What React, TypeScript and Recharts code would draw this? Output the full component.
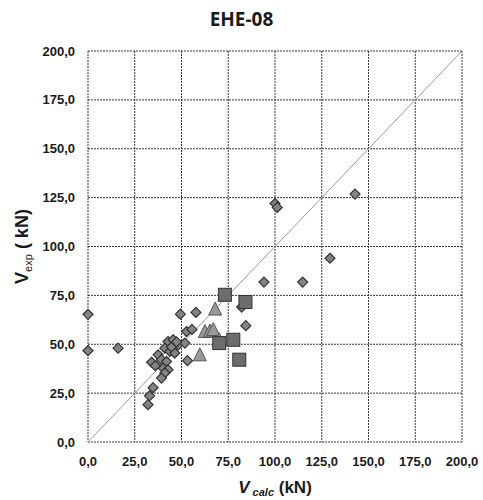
import React from "react";
import {
  ScatterChart,
  Scatter,
  XAxis,
  YAxis,
  CartesianGrid,
  ReferenceLine,
  Label,
} from "recharts";

// ─── Data (V_calc, V_exp in kN) ──────────────────────────────────────────────
const TICKS = [0, 25, 50, 75, 100, 125, 150, 175, 200];

const DIAMOND_X = [
  0, 0, 16.1, 49.4, 57.7, 84.4, 53.2, 34.0, 34.8, 32.9, 32.1,
  52.7, 55.6, 42.8, 45.5, 48.2, 51.8, 41.1, 43.8, 46.4, 37.5, 39.3, 42.0,
  40.2, 42.8, 41.1, 39.3, 36.0, 44.6, 47.4, 82.2, 94.1, 114.8, 129.4,
  142.8, 100.0, 101.2,
];
const DIAMOND_Y = [
  65.3, 46.7, 48.0, 65.4, 66.3, 59.5, 41.6, 40.8, 27.8, 23.6, 19.1,
  56.5, 57.6, 51.4, 52.3, 49.7, 50.6, 48.0, 46.3, 45.5, 44.6, 42.1, 41.2,
  37.8, 37.0, 35.3, 32.7, 39.0, 48.6, 51.2, 69.0, 81.8, 81.8, 94.0,
  126.8, 122.0, 120.0,
];

const TRIANGLE_X = [68.0, 62.5, 65.2, 67.0, 70.2, 59.8];
const TRIANGLE_Y = [68.0, 56.5, 56.8, 57.5, 52.3, 44.6];

const SQUARE_X = [73.2, 84.2, 70.2, 77.7, 80.9];
const SQUARE_Y = [75.3, 71.6, 50.6, 52.3, 42.1];

const zip = (xs: number[], ys: number[]) => xs.map((x, i) => ({ x, y: ys[i] }));
const diamonds = zip(DIAMOND_X, DIAMOND_Y);
const triangles = zip(TRIANGLE_X, TRIANGLE_Y);
const squares = zip(SQUARE_X, SQUARE_Y);

const fmt = (v: number) => v.toFixed(1).replace(".", ",");

const TICK_STYLE = {
  fontFamily: "'Liberation Sans', Arial, sans-serif",
  fontSize: 13,
  fontWeight: 700,
  fill: "#1a1a1a",
};

// ─── Marker shapes ───────────────────────────────────────────────────────────
function Diamond({ cx, cy }: any) {
  const r = 5;
  return (
    <path
      d={`M${cx},${cy - r}L${cx + r},${cy}L${cx},${cy + r}L${cx - r},${cy}Z`}
      fill="#838383"
      stroke="#333"
      strokeWidth={1.2}
    />
  );
}

function Triangle({ cx, cy }: any) {
  return (
    <path
      d={`M${cx},${cy - 7}L${cx + 6.5},${cy + 6}L${cx - 6.5},${cy + 6}Z`}
      fill="#999"
      stroke="#555"
      strokeWidth={1}
    />
  );
}

function Square({ cx, cy }: any) {
  const s = 6.5;
  return (
    <rect
      x={cx - s}
      y={cy - s}
      width={s * 2}
      height={s * 2}
      fill="#6c6c6c"
      stroke="#333"
      strokeWidth={1}
    />
  );
}

// ─── Axis titles ─────────────────────────────────────────────────────────────
function XTitle({ viewBox }: any) {
  const cx = viewBox.x + viewBox.width / 2;
  const y = viewBox.y + 51;
  return (
    <text
      x={cx}
      y={y}
      textAnchor="middle"
      fontFamily="'Liberation Sans', Arial, sans-serif"
      fontWeight={700}
      fontSize={17}
      fill="#1a1a1a"
    >
      <tspan fontStyle="italic">V</tspan>
      <tspan fontStyle="italic" fontSize={11} dy={3}> calc</tspan>
      <tspan dy={-3}> (kN)</tspan>
    </text>
  );
}

function YTitle({ viewBox }: any) {
  const x = 28;
  const cy = viewBox.y + viewBox.height / 2;
  return (
    <text
      x={x}
      y={cy}
      transform={`rotate(-90 ${x} ${cy})`}
      textAnchor="middle"
      fontFamily="'Liberation Sans', Arial, sans-serif"
      fontWeight={700}
      fontSize={18}
      fill="#1a1a1a"
    >
      <tspan>V</tspan>
      <tspan fontSize={11} fontWeight={400} dy={4}>exp</tspan>
      <tspan dy={-4}> ( kN)</tspan>
    </text>
  );
}

export default function App() {
  return (
    <div style={{ position: "relative", width: 483, height: 500, background: "#fff" }}>
      <style>{`body{margin:0}`}</style>
      <div
        style={{
          position: "absolute",
          top: 6,
          left: 0,
          width: 483,
          textAlign: "center",
          fontFamily: "'Open Sans', sans-serif",
          fontWeight: 700,
          fontSize: 19,
          color: "#1a1a1a",
        }}
      >
        EHE-08
      </div>
      <ScatterChart
        width={483}
        height={500}
        margin={{ top: 51, right: 21, left: 28, bottom: 28 }}
      >
        <CartesianGrid
          stroke="#3a3a3a"
          strokeDasharray="2 1"
          horizontalValues={TICKS}
          verticalValues={TICKS}
        />
        <XAxis
          type="number"
          dataKey="x"
          domain={[0, 200]}
          ticks={TICKS}
          tickFormatter={fmt}
          tick={TICK_STYLE}
          tickLine={false}
          axisLine={false}
          tickMargin={9}
          height={30}
          interval={0}
        >
          <Label content={<XTitle />} />
        </XAxis>
        <YAxis
          type="number"
          dataKey="y"
          domain={[0, 200]}
          ticks={TICKS}
          tickFormatter={fmt}
          tick={TICK_STYLE}
          tickLine={false}
          axisLine={false}
          tickMargin={7}
          width={60}
          interval={0}
        >
          <Label content={<YTitle />} />
        </YAxis>
        <ReferenceLine
          segment={[
            { x: 0, y: 0 },
            { x: 200, y: 200 },
          ]}
          stroke="#9a9a9a"
          strokeWidth={1}
        />
        <Scatter data={diamonds} shape={<Diamond />} isAnimationActive={false} />
        <Scatter data={triangles} shape={<Triangle />} isAnimationActive={false} />
        <Scatter data={squares} shape={<Square />} isAnimationActive={false} />
      </ScatterChart>
    </div>
  );
}
